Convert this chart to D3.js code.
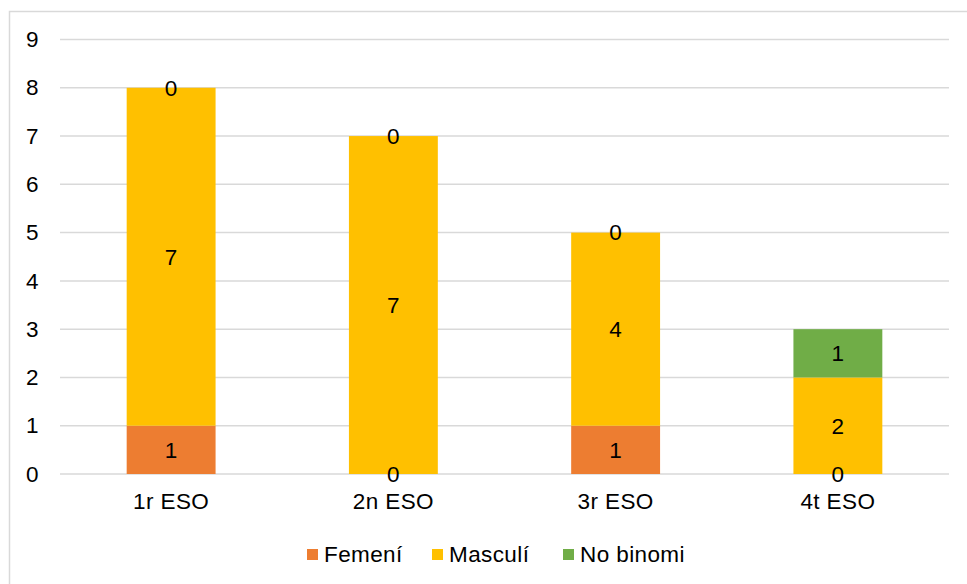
<!DOCTYPE html>
<html>
<head>
<meta charset="utf-8">
<script src="https://cdn.jsdelivr.net/npm/d3@7"></script>
<style>
  html, body { margin: 0; padding: 0; background: #fff; }
  svg { display: block; font-family: "Liberation Sans", Arial, sans-serif; }
</style>
</head>
<body>
<svg id="chart" width="967" height="584"></svg>
<script>
// Students per course, split by gender
const categories = ["1r ESO", "2n ESO", "3r ESO", "4t ESO"];
const seriesNames = ["Femení", "Masculí", "No binomi"];
const femeni = [1, 0, 1, 0];
const masculi = [7, 7, 4, 2];
const noBinomi = [0, 0, 0, 1];
const yTicks = [0, 1, 2, 3, 4, 5, 6, 7, 8, 9];
const colors = ["#ED7D31", "#FFC000", "#70AD47"];

const rows = categories.map((c, i) => ({
  cat: c,
  "Femení": femeni[i],
  "Masculí": masculi[i],
  "No binomi": noBinomi[i]
}));

const svg = d3.select("#chart");
const W = 967, H = 584;
const FS = 22.5;
const LS = "0.4px";
const plot = { left: 60, right: 949, top: 39.5, bottom: 474 };

// outer frame (left and top edges visible)
svg.append("rect")
  .attr("x", 9.5).attr("y", 11.5)
  .attr("width", W + 20).attr("height", H + 20)
  .attr("fill", "#fff").attr("stroke", "#d9d9d9").attr("stroke-width", 1.5);

const x = d3.scaleBand().domain(categories)
  .range([plot.left, plot.right]).paddingInner(0.6).paddingOuter(0.3);
const y = d3.scaleLinear().domain([0, 9]).range([plot.bottom, plot.top]);

// gridlines
svg.append("g").selectAll("line").data(yTicks).join("line")
  .attr("x1", plot.left).attr("x2", plot.right)
  .attr("y1", d => y(d)).attr("y2", d => y(d))
  .attr("stroke", "#d9d9d9").attr("stroke-width", 1.5);

// y axis labels
const yAxis = d3.axisLeft(y).tickValues(yTicks).tickSize(0).tickPadding(0);
const gy = svg.append("g").attr("transform", "translate(38.5,0)").call(yAxis);
gy.select(".domain").remove();
gy.selectAll("text").attr("font-size", FS).attr("fill", "#000")
  .attr("font-family", "Liberation Sans, Arial, sans-serif");

const stack = d3.stack().keys(seriesNames);
const layers = stack(rows);

const g = svg.append("g");
layers.forEach((layer, li) => {
  g.append("g").selectAll("rect").data(layer).join("rect")
    .attr("x", d => x(d.data.cat))
    .attr("width", x.bandwidth())
    .attr("y", d => y(d[1]))
    .attr("height", d => y(d[0]) - y(d[1]))
    .attr("fill", colors[li]);
});

// value labels, centred in each segment
layers.forEach((layer, li) => {
  g.append("g").selectAll("text").data(layer).join("text")
    .attr("x", d => x(d.data.cat) + x.bandwidth() / 2)
    .attr("y", d => y((d[0] + d[1]) / 2))
    .attr("dy", "0.35em")
    .attr("text-anchor", "middle")
    .attr("font-size", FS)
    .attr("fill", "#000")
    .text(d => d[1] - d[0]);
});

// x axis labels
const xAxis = d3.axisBottom(x).tickSize(0).tickPadding(0);
const gx = svg.append("g").attr("transform", `translate(0,${plot.bottom + 27})`).call(xAxis);
gx.select(".domain").remove();
gx.selectAll("text").attr("font-size", FS).attr("fill", "#000")
  .attr("dy", "0.35em")
  .attr("letter-spacing", LS)
  .attr("font-family", "Liberation Sans, Arial, sans-serif");

// legend
const legendX = [307, 432, 563];
const legend = svg.append("g");
seriesNames.forEach((name, i) => {
  legend.append("rect")
    .attr("x", legendX[i]).attr("y", 549)
    .attr("width", 11).attr("height", 11)
    .attr("fill", colors[i]);
  legend.append("text")
    .attr("x", legendX[i] + 17).attr("y", 554)
    .attr("dy", "0.35em")
    .attr("font-size", FS)
    .attr("letter-spacing", LS)
    .attr("fill", "#000")
    .text(name);
});
</script>
</body>
</html>
